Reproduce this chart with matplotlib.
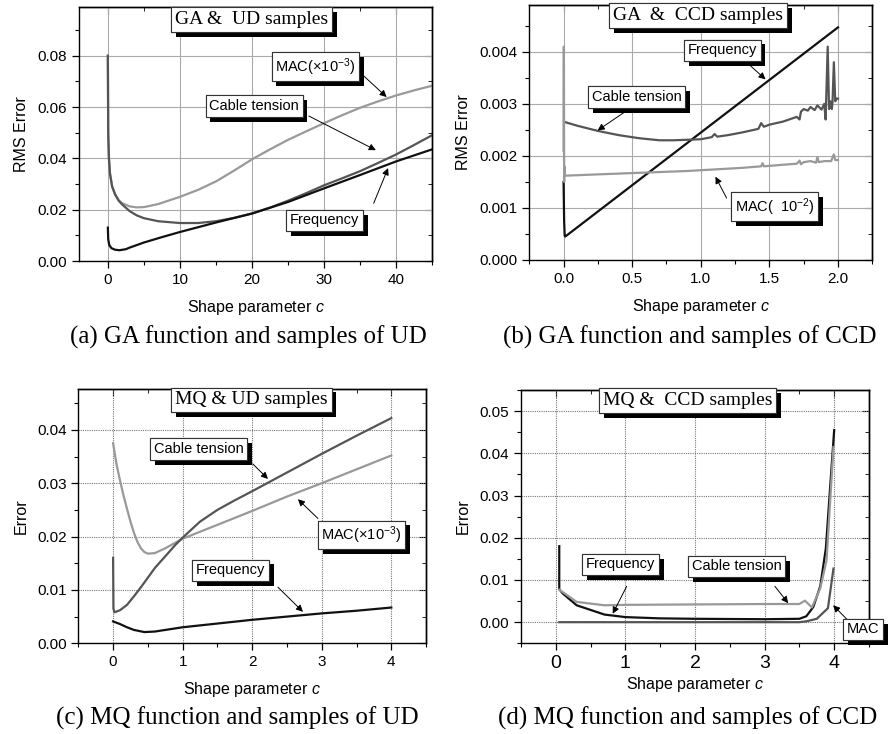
import matplotlib
matplotlib.use('Agg')
import matplotlib.pyplot as plt
import matplotlib.patheffects as pe
from matplotlib.ticker import MultipleLocator, NullFormatter

plt.rcParams['font.family'] = 'Liberation Sans'
plt.rcParams['mathtext.fontset'] = 'custom'
plt.rcParams['mathtext.rm'] = 'Liberation Sans'
plt.rcParams['mathtext.it'] = 'Liberation Sans:italic'
plt.rcParams['axes.linewidth'] = 1.0

# (a) GA & UD samples
a_freq_x = [0, 0.05, 0.2, 0.5, 1, 1.6, 2.5, 3, 5, 7.5, 10, 15, 20, 25, 30, 35, 40, 45]
a_freq_y = [0.013, 0.0085, 0.0062, 0.0050, 0.0044, 0.0042, 0.0046, 0.0052, 0.0072, 0.0093,
            0.0113, 0.0150, 0.0185, 0.0230, 0.0283, 0.0335, 0.0388, 0.0435]
a_cable_x = [0, 0.05, 0.15, 0.3, 0.6, 1, 1.5, 2, 3, 4, 5, 7, 10, 12.5, 15, 17.5, 20, 22.5, 25,
             27.5, 30, 32.5, 35, 37.5, 40, 42.5, 45]
a_cable_y = [0.080, 0.050, 0.040, 0.034, 0.029, 0.026, 0.0235, 0.022, 0.0195, 0.0178, 0.0167,
             0.0155, 0.0148, 0.0148, 0.0155, 0.0168, 0.0185, 0.0208, 0.0235, 0.0264, 0.0295,
             0.0322, 0.0350, 0.0382, 0.0415, 0.0452, 0.0490]
a_mac_x = [0, 0.05, 0.15, 0.3, 0.6, 1, 1.5, 2, 3, 4, 5, 7, 10, 12.5, 15, 17.5, 20, 22.5, 25,
           27.5, 30, 32.5, 35, 37.5, 40, 42.5, 45]
a_mac_y = [0.080, 0.050, 0.040, 0.034, 0.029, 0.026, 0.0237, 0.0225, 0.0213, 0.0209, 0.021,
           0.0222, 0.0250, 0.0277, 0.0310, 0.0352, 0.0396, 0.0435, 0.0472, 0.0505, 0.0537,
           0.0568, 0.0597, 0.0622, 0.0645, 0.0665, 0.0683]

# (b) GA & CCD samples
b_freq_x = [0, 0.004, 0.008, 0.012, 2.0]
b_freq_y = [0.0015, 0.00075, 0.00047, 0.00045, 0.00447]
b_cable_x = [0.01, 0.1, 0.25, 0.4, 0.55, 0.7, 0.8, 0.9, 1.0, 1.08, 1.1, 1.12, 1.2, 1.3, 1.42,
             1.44, 1.46, 1.5, 1.6, 1.7, 1.72, 1.73, 1.75, 1.78, 1.8, 1.83, 1.85, 1.88, 1.9,
             1.91, 1.925, 1.935, 1.945, 1.955, 1.96, 1.97, 1.98, 1.99, 2.0]
b_cable_y = [0.00265, 0.00258, 0.00248, 0.0024, 0.00234, 0.0023, 0.0023, 0.00231, 0.00232,
             0.00236, 0.00242, 0.00237, 0.0024, 0.00245, 0.00252, 0.00263, 0.00256, 0.0026,
             0.00266, 0.00275, 0.0027, 0.00285, 0.0029, 0.00287, 0.00294, 0.00288, 0.00297,
             0.00289, 0.003, 0.0027, 0.0041, 0.0029, 0.00305, 0.0029, 0.00302, 0.0038,
             0.00305, 0.0031, 0.0031]
b_mac_x = [0, 0.002, 0.004, 0.006, 0.01, 0.3, 0.6, 0.9, 1.1, 1.3, 1.44, 1.45, 1.46, 1.6, 1.7,
           1.72, 1.73, 1.75, 1.8, 1.84, 1.85, 1.86, 1.9, 1.95, 1.97, 1.98, 2.0]
b_mac_y = [0.0021, 0.0041, 0.0015, 0.0018, 0.00162, 0.00165, 0.00168, 0.00171, 0.00174,
           0.00177, 0.00180, 0.00186, 0.00180, 0.00183, 0.00185, 0.00191, 0.00184, 0.00188,
           0.0019, 0.00187, 0.00198, 0.00188, 0.0019, 0.0019, 0.00203, 0.00192, 0.00192]

# (c) MQ & UD samples
c_freq_x = [0, 0.1, 0.2, 0.3, 0.45, 0.6, 0.8, 1.0, 1.5, 2, 2.5, 3, 3.5, 4]
c_freq_y = [0.0041, 0.0036, 0.0030, 0.0025, 0.0021, 0.0022, 0.0026, 0.0030, 0.0037, 0.0044,
            0.0050, 0.0056, 0.0061, 0.0067]
c_cable_x = [0, 0.005, 0.02, 0.1, 0.2, 0.3, 0.4, 0.5, 0.6, 0.75, 0.9, 1.0, 1.25, 1.5, 1.75,
             2, 2.5, 3, 3.5, 4]
c_cable_y = [0.016, 0.0065, 0.0058, 0.0062, 0.0072, 0.0088, 0.0105, 0.0123, 0.0141, 0.0163,
             0.0185, 0.0198, 0.0228, 0.0250, 0.0268, 0.0285, 0.0320, 0.0355, 0.0389, 0.0422]
c_mac_x = [0, 0.05, 0.1, 0.15, 0.2, 0.25, 0.3, 0.35, 0.4, 0.45, 0.5, 0.6, 0.75, 1.0, 1.5, 2,
           2.5, 3, 3.5, 4]
c_mac_y = [0.0375, 0.0335, 0.0305, 0.0277, 0.0252, 0.0228, 0.0207, 0.019, 0.0178, 0.0171,
           0.0168, 0.0169, 0.0178, 0.0196, 0.0222, 0.0248, 0.0275, 0.0300, 0.0326, 0.0352]

# (d) MQ & CCD samples
d_freq_x = [0.05, 0.05, 0.1, 0.3, 0.7, 1.0, 1.5, 2.0, 2.5, 3.0, 3.5, 3.6, 3.7, 3.8, 3.88, 4.0]
d_freq_y = [0.018, 0.0078, 0.0068, 0.0040, 0.0018, 0.0012, 0.0009, 0.0008, 0.00075, 0.0007,
            0.0008, 0.0014, 0.0036, 0.0085, 0.0174, 0.0455]
d_cable_x = [0.05, 0.3, 0.7, 1.0, 2.0, 3.0, 3.5, 3.58, 3.68, 3.8, 3.89, 3.99]
d_cable_y = [0.0077, 0.0048, 0.0040, 0.0041, 0.0042, 0.0043, 0.0043, 0.0051, 0.0035, 0.0080,
             0.0146, 0.0415]
d_mac_x = [0.05, 1.0, 2.0, 3.0, 3.5, 3.6, 3.75, 3.91, 3.99]
d_mac_y = [0.0, 0.0, 0.0, 0.0, 0.0, 0.0002, 0.0008, 0.0033, 0.0127]

FREQ = '#111111'
DARK = '#555555'
LIGHT = '#999999'
LW = 1.6


def shadow_box(ax, x, y, s, fs=10.5, serif=False, pad=0.25):
    fam = 'Liberation Serif' if serif else 'Liberation Sans'
    t = ax.text(x, y, s, ha='center', va='center', fontsize=fs, family=fam, zorder=6,
                clip_on=False,
                bbox=dict(boxstyle='square,pad=%s' % pad, fc='white', ec='#333333', lw=0.8))
    t.get_bbox_patch().set_path_effects(
        [pe.withSimplePatchShadow(offset=(3.5, -3.5), shadow_rgbFace='k', alpha=1), pe.Normal()])
    return t


def arrow(ax, start, tip):
    ax.annotate('', xy=tip, xytext=start, zorder=5,
                arrowprops=dict(arrowstyle='-|>', color='k', lw=0.7, mutation_scale=10,
                                shrinkA=0, shrinkB=0))


def setup(ax, xlim, ylim, xmaj, xmin, ymaj, ymin, fmt, dotted, xfs=11):
    ax.set_xlim(*xlim)
    ax.set_ylim(*ylim)
    ax.xaxis.set_major_locator(MultipleLocator(xmaj))
    ax.xaxis.set_minor_locator(MultipleLocator(xmin))
    ax.yaxis.set_major_locator(MultipleLocator(ymaj))
    ax.yaxis.set_minor_locator(MultipleLocator(ymin))
    ax.yaxis.set_major_formatter(fmt)
    ax.tick_params(which='both', direction='out', top=False, right=False)
    ax.tick_params(which='major', length=5, width=0.9)
    ax.tick_params(which='minor', length=3, width=0.8)
    ax.tick_params(axis='y', labelsize=11)
    ax.tick_params(axis='x', labelsize=xfs)
    if dotted:
        ax.grid(True, which='major', color='#777777', lw=0.8, ls=(0, (1, 1)))
    else:
        ax.grid(True, which='major', color='#aaaaaa', lw=0.8, ls='-')
    ax.set_axisbelow(True)
    # ticks on top and right point inward
    sx = ax.secondary_xaxis('top')
    sx.xaxis.set_major_locator(MultipleLocator(xmaj))
    sx.xaxis.set_minor_locator(MultipleLocator(xmin))
    sx.xaxis.set_major_formatter(NullFormatter())
    sx.tick_params(which='both', direction='in')
    sx.tick_params(which='major', length=5)
    sx.tick_params(which='minor', length=3)
    sy = ax.secondary_yaxis('right')
    sy.yaxis.set_major_locator(MultipleLocator(ymaj))
    sy.yaxis.set_minor_locator(MultipleLocator(ymin))
    sy.yaxis.set_major_formatter(NullFormatter())
    sy.tick_params(which='both', direction='in')
    sy.tick_params(which='major', length=5)
    sy.tick_params(which='minor', length=3)
    ax.set_xlabel('Shape parameter $\\mathit{c}$', fontsize=11.5, labelpad=8)


fig = plt.figure(figsize=(8.93, 7.34), dpi=100)
ax_a = fig.add_axes([0.0885, 0.6444, 0.3953, 0.3461])
ax_b = fig.add_axes([0.5927, 0.6458, 0.3841, 0.3474])
ax_c = fig.add_axes([0.0877, 0.1236, 0.3894, 0.3460])
ax_d = fig.add_axes([0.5834, 0.1236, 0.3897, 0.3451])

# ---- (a)
ax = ax_a
ax.plot(a_mac_x, a_mac_y, color=LIGHT, lw=LW)
ax.plot(a_cable_x, a_cable_y, color=DARK, lw=LW)
ax.plot(a_freq_x, a_freq_y, color=FREQ, lw=LW)
setup(ax, (-4, 45), (0, 0.099), 10, 5, 0.02, 0.01, '{x:.2f}', False)
ax.set_ylabel('RMS Error', fontsize=11.5, labelpad=6)
shadow_box(ax, 19.9, 0.094, 'GA &  UD samples', fs=14, serif=True, pad=0.2)
shadow_box(ax, 28.8, 0.0757, 'MAC(\u00d710$^{-3}$)')
arrow(ax, (35.1, 0.0732), (38.7, 0.0639))
shadow_box(ax, 20.3, 0.0604, 'Cable tension')
arrow(ax, (27.9, 0.0565), (37.2, 0.0432))
shadow_box(ax, 30.1, 0.0158, 'Frequency')
arrow(ax, (36.9, 0.0225), (38.9, 0.0362))

# ---- (b)
ax = ax_b
ax.plot(b_freq_x, b_freq_y, color=FREQ, lw=LW)
ax.plot(b_cable_x, b_cable_y, color=DARK, lw=LW)
ax.plot(b_mac_x, b_mac_y, color=LIGHT, lw=LW)
setup(ax, (-0.25, 2.25), (0, 0.0049), 0.5, 0.25, 0.001, 0.0005, '{x:.3f}', False)
ax.xaxis.set_major_formatter('{x:.1f}')
ax.set_ylabel('RMS Error', fontsize=11.5, labelpad=6)
shadow_box(ax, 0.98, 0.0047, 'GA  &  CCD samples', fs=14, serif=True, pad=0.2)
shadow_box(ax, 1.156, 0.00403, 'Frequency')
arrow(ax, (1.35, 0.00376), (1.472, 0.00347))
shadow_box(ax, 0.531, 0.00313, 'Cable tension')
arrow(ax, (0.438, 0.00283), (0.248, 0.00249))
shadow_box(ax, 1.538, 0.00102, 'MAC(  10$^{-2}$)')
arrow(ax, (1.188, 0.00119), (1.107, 0.0016))

# ---- (c)
ax = ax_c
ax.plot(c_mac_x, c_mac_y, color=LIGHT, lw=LW)
ax.plot(c_cable_x, c_cable_y, color=DARK, lw=LW)
ax.plot(c_freq_x, c_freq_y, color=FREQ, lw=LW)
setup(ax, (-0.5, 4.5), (0, 0.0476), 1, 0.5, 0.01, 0.005, '{x:.2f}', True)
ax.set_ylabel('Error', fontsize=11.5, labelpad=6)
shadow_box(ax, 1.988, 0.0456, 'MQ & UD samples', fs=14, serif=True, pad=0.2)
shadow_box(ax, 1.23, 0.0364, 'Cable tension')
arrow(ax, (2.01, 0.0336), (2.227, 0.0308))
shadow_box(ax, 3.574, 0.0203, 'MAC(\u00d710$^{-3}$)')
arrow(ax, (2.945, 0.0234), (2.658, 0.027))
shadow_box(ax, 1.688, 0.0137, 'Frequency')
arrow(ax, (2.371, 0.0105), (2.73, 0.0059))

# ---- (d)
ax = ax_d
ax.plot(d_mac_x, d_mac_y, color=DARK, lw=LW)
ax.plot(d_freq_x, d_freq_y, color=FREQ, lw=LW)
ax.plot(d_cable_x, d_cable_y, color=LIGHT, lw=LW)
setup(ax, (-0.5, 4.5), (-0.005, 0.055), 1, 0.5, 0.01, 0.005, '{x:.2f}', True, xfs=14)
ax.xaxis.labelpad = 2
ax.set_ylabel('Error', fontsize=11.5, labelpad=6)
shadow_box(ax, 1.892, 0.0525, 'MQ &  CCD samples', fs=14, serif=True, pad=0.2)
shadow_box(ax, 0.934, 0.0137, 'Frequency')
arrow(ax, (1.019, 0.0085), (0.818, 0.002))
shadow_box(ax, 2.598, 0.0132, 'Cable tension')
arrow(ax, (3.148, 0.0085), (3.339, 0.0045))
shadow_box(ax, 4.415, -0.0017, 'MAC')
arrow(ax, (4.2, 0.0004), (3.985, 0.004))

# captions
cap = dict(family='Liberation Serif', fontsize=18, ha='center', va='center')
fig.text(248 / 893, 1 - 337 / 734, '(a) GA function and samples of UD', **cap)
fig.text(690 / 893, 1 - 337 / 734, '(b) GA function and samples of CCD', **cap)
fig.text(237 / 893, 1 - 718 / 734, '(c) MQ function and samples of UD', **cap)
fig.text(688 / 893, 1 - 718 / 734, '(d) MQ function and samples of CCD', **cap)

fig.savefig('out.png', dpi=100)
